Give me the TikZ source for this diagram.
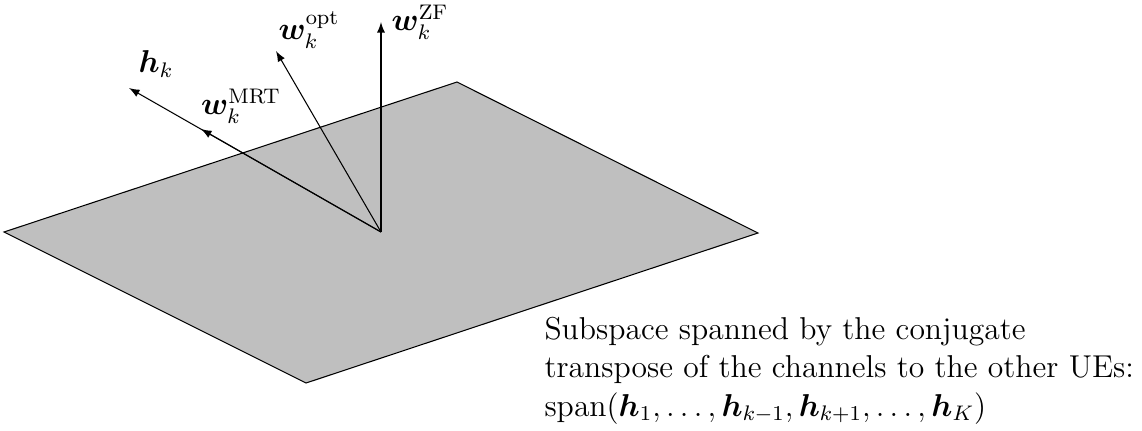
\documentclass[12pt,tikz,border=0pt]{standalone}
\usepackage{amsmath}
\usepackage{bm}
\usetikzlibrary{arrows}
\begin{document}
\begin{tikzpicture}[
    x=0.3795pt, y=-0.3795pt,
    plane/.style={draw=black, fill=black!25},
    vec/.style={->, >=latex},
    lbl/.style={inner sep=0pt}
]
    \useasboundingbox (0,0) rectangle (1142,430);
    % subspace
    \coordinate (pl) at (4,232);
    \coordinate (pt) at (457,82);
    \coordinate (pr) at (758,233);
    \coordinate (pb) at (306,383);
    \filldraw[plane] (pl) -- (pt) -- (pr) -- (pb) -- cycle;

    \coordinate (o) at (381,232);
    \coordinate (hk) at (129,88);
    \coordinate (mrt) at (201,129);
    \coordinate (opt) at (276,51);
    \coordinate (zf) at (381,22);

    \draw[vec] (o) -- (hk);
    \draw[vec] (o) -- (mrt);
    \draw[vec] (o) -- (opt);
    \draw[vec] (o) -- (zf);

    \node[lbl] (lhk) at (156,64) {$\bm{h}_k$};
    \node[lbl] (lmrt) at (241,106) {$\bm{w}_k^{\mathrm{MRT}}$};
    \node[lbl] (lopt) at (309,30) {$\bm{w}_k^{\mathrm{opt}}$};
    \node[lbl] (lzf) at (420,22) {$\bm{w}_k^{\mathrm{ZF}}$};

    \node[lbl, anchor=base west, align=left] (span) at (544,416)
        {Subspace spanned by the conjugate\\
         transpose of the channels to the other UEs:\\
         $\mathrm{span}(\bm{h}_1,\ldots,\bm{h}_{k-1},\bm{h}_{k+1},\ldots,\bm{h}_K)$};
\end{tikzpicture}
\end{document}
